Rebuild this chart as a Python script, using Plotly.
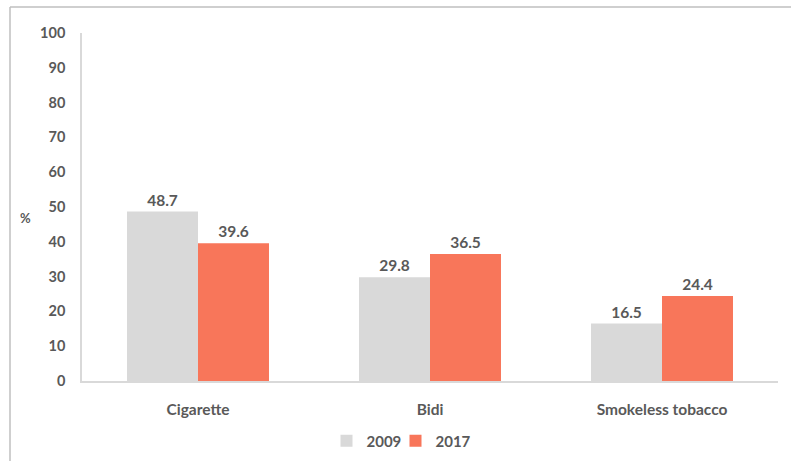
import plotly.graph_objects as go

categories = ["Cigarette", "Bidi", "Smokeless tobacco"]
values_2009 = [48.7, 29.8, 16.5]
values_2017 = [39.6, 36.5, 24.4]
series_names = ["2009", "2017"]
y_ticks = [0, 10, 20, 30, 40, 50, 60, 70, 80, 90, 100]

W, H = 791, 461
L, R, T, B = 82, 13, 33, 80
pw, ph = W - L - R, H - T - B

FONT = "Lato"
GREY_TXT = "#595959"

fig = go.Figure()
for name, vals, col in [(series_names[0], values_2009, "#D9D9D9"),
                        (series_names[1], values_2017, "#F8765A")]:
    fig.add_trace(go.Bar(
        x=categories, y=vals, name=name,
        marker=dict(color=col, line=dict(width=0)),
        text=[f"{v:.1f}" for v in vals], textposition="outside",
        textfont=dict(family=FONT, size=15.5, color=GREY_TXT, weight="bold"),
        cliponaxis=False,
    ))
# invisible spacer legend entry so the last legend label is not clipped
fig.add_trace(go.Scatter(x=[None], y=[None], name=" ", mode="markers",
                         marker=dict(color="rgba(0,0,0,0)", size=1),
                         hoverinfo="skip", showlegend=True))

def px(x):
    return (x - L) / pw

def py(y):
    return (H - B - y) / ph

fig.update_layout(
    width=W, height=H,
    margin=dict(l=L, r=R, t=T, b=B, autoexpand=False),
    paper_bgcolor="white", plot_bgcolor="white",
    barmode="group", bargap=0.388, bargroupgap=0,
    font=dict(family=FONT, size=14, color=GREY_TXT),
    showlegend=True,
    legend=dict(orientation="h", x=px(430), y=py(441), xanchor="center", yanchor="middle",
                font=dict(family=FONT, size=15, color=GREY_TXT, weight="bold"),
                itemwidth=30, entrywidth=24, traceorder="normal"),
    xaxis=dict(showline=True, linecolor="#D9D9D9", linewidth=1.5,
               showgrid=False, ticks="outside", ticklen=14, tickcolor="rgba(0,0,0,0)",
               tickfont=dict(family=FONT, size=15.5, color=GREY_TXT, weight="bold")),
    yaxis=dict(range=[0, 100], tickvals=y_ticks, showline=True, linecolor="#D9D9D9",
               linewidth=1.5, showgrid=False, zeroline=False,
               ticks="outside", ticklen=12, tickcolor="rgba(0,0,0,0)",
               tickfont=dict(family=FONT, size=14.5, color=GREY_TXT, weight="bold")),
    shapes=[
        dict(type="line", xref="paper", yref="paper", x0=px(10), x1=px(10),
             y0=py(7), y1=py(H + 5), line=dict(color="#BFBFBF", width=1.5)),
        dict(type="line", xref="paper", yref="paper", x0=px(10), x1=px(W + 5),
             y0=py(7), y1=py(7), line=dict(color="#BFBFBF", width=1.5)),
    ],
    annotations=[dict(text="%", xref="paper", yref="paper", x=px(25), y=py(218),
                      showarrow=False, xanchor="center", yanchor="middle",
                      font=dict(family=FONT, size=13, color=GREY_TXT, weight="bold"))],
)

fig.write_html("out.html")
